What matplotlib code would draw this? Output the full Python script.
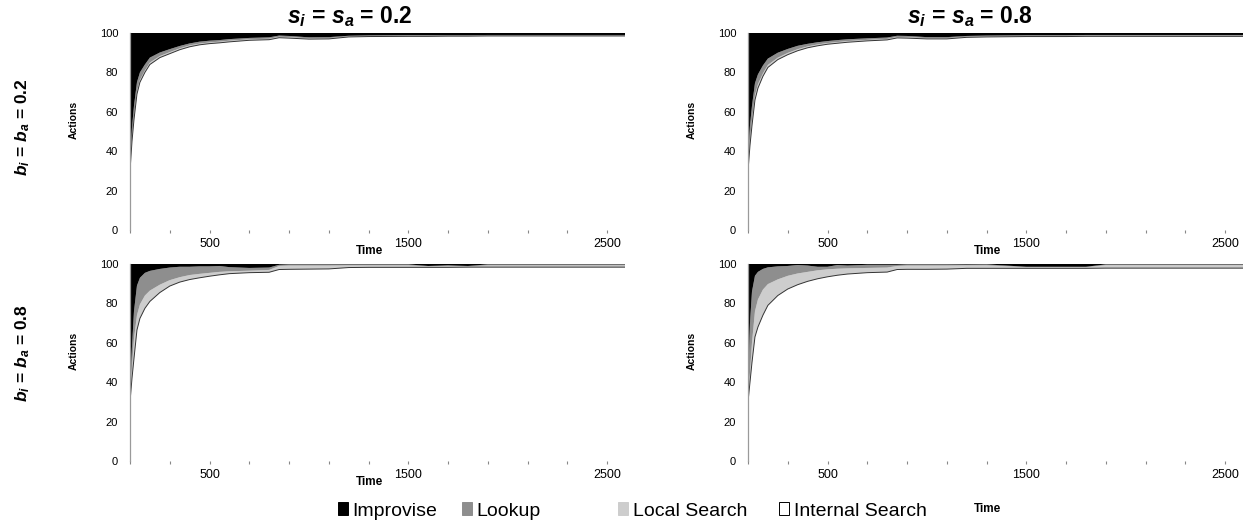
# -*- coding: utf-8 -*-
# Share of actions over time, 2x2 grid of 100% stacked areas
import matplotlib.pyplot as plt
from matplotlib.patches import Patch

plt.rcParams['font.family'] = ['Liberation Sans', 'DejaVu Sans']
plt.rcParams['mathtext.fontset'] = 'custom'
plt.rcParams['mathtext.rm'] = 'Liberation Sans'
plt.rcParams['mathtext.it'] = 'Liberation Sans:italic'
plt.rcParams['mathtext.bf'] = 'Liberation Sans:bold'
plt.rcParams['mathtext.bfit'] = 'Liberation Sans:italic:bold'

# time steps
time = [100, 110, 120, 135, 150, 175, 200, 250, 300, 350, 400, 450, 500, 550, 600,
        700, 800, 850, 900, 1000, 1100, 1200, 1300, 1500, 1600, 1700, 1800, 1900,
        2100, 2300, 2590]

series_names = ['Improvise', 'Lookup', 'Local Search', 'Internal Search']
col_titles = ['0.2', '0.8']
row_titles = ['0.2', '0.8']

xtick_pos = [100, 300, 500, 700, 900, 1100, 1300, 1500, 1700, 1900, 2100, 2300, 2500]
xtick_lab = ['', '', '500', '', '', '', '', '1500', '', '', '', '', '2500']
ytick_pos = [0, 20, 40, 60, 80, 100]

# s=0.2, b=0.2
tl_improvise = [64, 48, 37, 25, 20, 16, 12.5, 9.9, 8.2, 6.6, 5.3, 4.4, 3.9, 3.6, 3.1,
                2.5, 2.2, 1.3, 1.5, 2.2, 2.1, 1.4, 1.2, 1.1, 1.1, 1.1, 1.1, 1.0,
                1.0, 1.0, 1.0]
tl_lookup = [4, 5, 5, 4.5, 3.8, 3.0, 2.5, 1.8, 1.5, 1.2, 1.0, 1.0, 0.9, 0.8, 0.8,
             0.7, 0.7, 0.6, 0.6, 0.5, 0.5, 0.3, 0.3, 0.3, 0.3, 0.3, 0.3, 0.3,
             0.3, 0.3, 0.3]
tl_local = [2, 2, 2, 1.5, 1.2, 1.0, 1.0, 0.8, 0.8, 0.7, 0.7, 0.6, 0.6, 0.6, 0.6,
            0.5, 0.5, 0.5, 0.5, 0.4, 0.4, 0.3, 0.3, 0.3, 0.3, 0.2, 0.2, 0.2,
            0.2, 0.2, 0.2]
tl_internal = [30, 45, 56, 69, 75, 80, 84, 87.5, 89.5, 91.5, 93, 94, 94.6, 95.0, 95.5,
               96.3, 96.6, 97.6, 97.4, 96.9, 97.0, 98.0, 98.2, 98.3, 98.3, 98.4, 98.4, 98.5,
               98.5, 98.5, 98.5]

# s=0.8, b=0.2
tr_improvise = [62, 47, 37, 25.5, 21, 16.5, 13, 10, 8.1, 6.5, 5.5, 4.7, 4.1, 3.6, 3.2,
                2.7, 2.3, 1.4, 1.5, 2.1, 2.1, 1.5, 1.3, 1.2, 1.1, 1.1, 1.0, 1.0,
                1.0, 1.0, 1.0]
tr_lookup = [5, 7, 7, 6, 5, 4, 3.2, 2.5, 2.0, 1.7, 1.3, 1.1, 1.0, 1.0, 0.9,
             0.8, 0.7, 0.6, 0.6, 0.5, 0.5, 0.4, 0.4, 0.4, 0.4, 0.4, 0.4, 0.4,
             0.4, 0.4, 0.4]
tr_local = [3, 3, 3, 2.5, 2.0, 1.5, 1.3, 1.0, 0.9, 0.8, 0.7, 0.7, 0.6, 0.6, 0.6,
            0.5, 0.5, 0.5, 0.5, 0.4, 0.4, 0.3, 0.3, 0.3, 0.3, 0.3, 0.3, 0.3,
            0.3, 0.3, 0.3]
tr_internal = [30, 43, 53, 66, 72, 78, 82.5, 86.5, 89, 91, 92.5, 93.5, 94.3, 94.8, 95.3,
               96.0, 96.5, 97.5, 97.4, 97.0, 97.0, 97.8, 98.0, 98.2, 98.2, 98.2, 98.3, 98.3,
               98.3, 98.3, 98.3]

# s=0.2, b=0.8
bl_improvise = [62, 42, 24, 11, 7, 4.5, 3.5, 2.5, 1.8, 1.4, 1.4, 1.2, 1.2, 1.0, 1.6,
                2.0, 1.8, 0.4, 0.2, 0.2, 0.2, 0.2, 0.2, 0.2, 1.0, 0.7, 1.0, 0.2,
                0.2, 0.2, 0.2]
bl_lookup = [5, 10, 14, 15, 13.5, 11.5, 10, 8, 6.4, 5.3, 4.2, 3.8, 3.3, 3.0, 2.1,
             1.4, 1.2, 0.6, 0.6, 0.6, 0.6, 0.5, 0.5, 0.5, 0.2, 0.1, 0.2, 0.5,
             0.5, 0.5, 0.5]
bl_local = [3, 6, 10, 7.5, 7.1, 6.5, 5.5, 4.0, 3.0, 2.5, 2.3, 2.0, 1.7, 1.5, 1.2,
            1.0, 1.2, 1.8, 1.9, 1.8, 1.7, 1.1, 1.0, 1.0, 0.5, 0.9, 0.4, 0.9,
            0.9, 0.9, 0.9]
bl_internal = [30, 42, 52, 66.5, 72.4, 77.5, 81, 85.5, 88.8, 90.8, 92.1, 93.0, 93.8, 94.5, 95.1,
               95.6, 95.8, 97.2, 97.3, 97.4, 97.5, 98.2, 98.3, 98.3, 98.3, 98.3, 98.4, 98.4,
               98.4, 98.4, 98.4]

# s=0.8, b=0.8
br_improvise = [60, 30, 14, 6, 4, 2.5, 1.7, 1.2, 1.0, 0.5, 0.8, 1.4, 1.4, 0.5, 0.8,
                0.4, 0.4, 0.4, 0.2, 0.2, 0.2, 0.3, 0.2, 1.4, 1.4, 1.4, 1.4, 0.2,
                0.2, 0.2, 0.2]
br_lookup = [8, 25, 26, 18, 14, 10.5, 8.5, 6.6, 5.0, 4.3, 3.2, 1.8, 1.3, 1.9, 1.4,
             1.6, 1.4, 0.6, 0.6, 0.6, 0.6, 0.4, 0.5, 0.2, 0.2, 0.2, 0.2, 0.4,
             0.4, 0.4, 0.4]
br_local = [2, 5, 10, 13, 14, 13, 10.8, 8.2, 6.7, 5.7, 4.8, 4.3, 3.8, 3.3, 2.9,
            2.4, 2.3, 1.8, 1.9, 1.9, 1.8, 1.5, 1.5, 0.6, 0.6, 0.6, 0.6, 1.5,
            1.5, 1.5, 1.5]
br_internal = [30, 40, 50, 63, 68, 74, 79, 84, 87.3, 89.5, 91.2, 92.5, 93.5, 94.3, 94.9,
               95.6, 95.9, 97.2, 97.3, 97.3, 97.4, 97.8, 97.8, 97.8, 97.8, 97.8, 97.8, 97.9,
               97.9, 97.9, 97.9]

colors = ['black', '#8e8e8e', '#cdcdcd', 'white']

fig = plt.figure(figsize=(12.49, 5.23), dpi=100)

# left, bottom in pixels of the 1249x523 picture, plus where "Time" sits
panels = [
    (130, 230, tl_improvise, tl_lookup, tl_local, tl_internal, 251),
    (748, 230, tr_improvise, tr_lookup, tr_local, tr_internal, 251),
    (130, 461, bl_improvise, bl_lookup, bl_local, bl_internal, 482),
    (748, 461, br_improvise, br_lookup, br_local, br_internal, 509),
]
W, H = 1249.0, 523.0
for left, bottom, imp, look, loc, inner, time_y in panels:
    ax = fig.add_axes([left / W, 1 - bottom / H, 495 / W, 197 / H])
    ax.stackplot(time, inner, loc, look, imp, colors=colors[::-1], linewidth=0)
    ax.plot(time, inner, color='#333333', lw=0.7)
    ax.set_xlim(100, 2590)
    ax.set_ylim(0, 100)
    for s in ['top', 'right', 'bottom']:
        ax.spines[s].set_visible(False)
    ax.spines['left'].set_color('#9a9a9a')
    ax.spines['left'].set_linewidth(0.9)
    ax.set_xticks(xtick_pos)
    ax.set_xticklabels(xtick_lab)
    ax.set_yticks(ytick_pos)
    ax.tick_params(axis='x', length=2, width=0.8, color='#888888', pad=4, labelsize=9)
    ax.tick_params(axis='y', length=0, pad=8.5, labelsize=8)
    ax.set_ylabel('Actions', fontsize=7.5, fontweight='bold')
    ax.yaxis.set_label_coords(-0.103, 0.56)
    fig.text((left + 240) / W, 1 - time_y / H, 'Time', fontsize=8.5, fontweight='bold',
             ha='center', va='center')

# column and row headers
for i, v in enumerate(col_titles):
    fig.text((350 + 620 * i) / W, 1 - 17 / H,
             r'$\mathbfit{s_i}$ = $\mathbfit{s_a}$ = ' + v,
             fontsize=16.5, fontweight='bold', ha='center', va='center')
for i, v in enumerate(row_titles):
    fig.text(23 / W, 1 - (127 + 226 * i) / H,
             r'$\mathbfit{b_i}$ = $\mathbfit{b_a}$ = ' + v,
             fontsize=12.5, fontweight='bold', ha='center', va='center', rotation=90)

# legend, one entry at a time so they sit where the original has them
legend_x = [338, 462, 618, 779]
for name, c, lx in zip(series_names, colors, legend_x):
    edge = 'black' if c == 'white' else c
    h = Patch(facecolor=c, edgecolor=edge, linewidth=0.7)
    fig.legend(handles=[h], labels=[name], loc='center left',
               bbox_to_anchor=(lx / W, 1 - 511 / H), frameon=False, fontsize=14,
               handlelength=0.5, handleheight=0.6, handletextpad=0.25,
               borderaxespad=0, borderpad=0)

fig.savefig('out.png', dpi=100)
